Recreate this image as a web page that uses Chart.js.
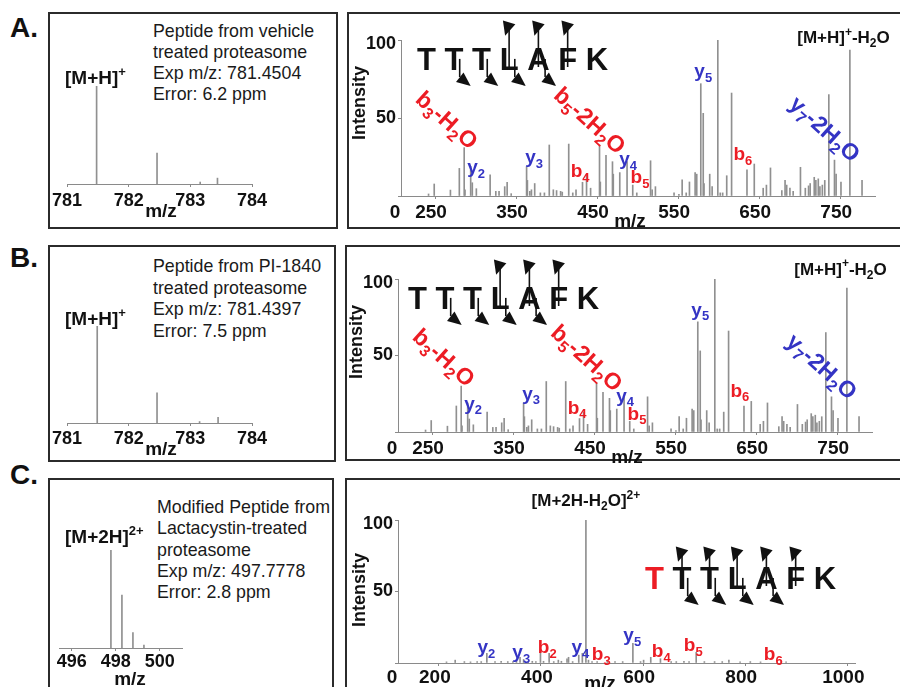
<!DOCTYPE html>
<html>
<head>
<meta charset="utf-8">
<script src="https://cdn.jsdelivr.net/npm/chart.js@4.4.1/dist/chart.umd.min.js"></script>
<style>
  body { margin: 0; background: #fff; }
  #fig { position: relative; width: 900px; height: 687px; overflow: hidden; font-family: "Liberation Sans", Arial, sans-serif; color: #111; }
  .box { position: absolute; border: 2px solid #2b2b2b; box-sizing: border-box; }
  .tag { position: absolute; font-weight: bold; font-size: 28px; line-height: 28px; }
  .info { position: absolute; font-size: 17.8px; line-height: 21px; white-space: nowrap; color: #1a1a1a; }
  canvas { position: absolute; left: 0; top: 0; }
</style>
</head>
<body>
<div id="fig">
  <div class="box" style="left:48px;top:12px;width:290px;height:217px"></div>
  <div class="box" style="left:347px;top:12px;width:600px;height:217px"></div>
  <div class="box" style="left:48px;top:245px;width:288px;height:217px"></div>
  <div class="box" style="left:345px;top:245px;width:600px;height:216px"></div>
  <div class="box" style="left:48px;top:478px;width:286px;height:300px"></div>
  <div class="box" style="left:345px;top:478px;width:600px;height:300px"></div>

  <div class="tag" style="left:10px;top:14px">A.</div>
  <div class="tag" style="left:10px;top:244px">B.</div>
  <div class="tag" style="left:10px;top:461px">C.</div>

  <div class="info" style="left:153px;top:21px">Peptide from vehicle<br>treated proteasome<br>Exp m/z: 781.4504<br>Error: 6.2 ppm</div>
  <div class="info" style="left:153px;top:256px;line-height:21.7px">Peptide from PI-1840<br>treated proteasome<br>Exp m/z: 781.4397<br>Error: 7.5 ppm</div>
  <div class="info" style="left:157px;top:497px;line-height:21.3px">Modified Peptide from<br>Lactacystin-treated<br>proteasome<br>Exp m/z: 497.7778<br>Error: 2.8 ppm</div>

  <canvas id="cA1" width="900" height="687"></canvas>
  <canvas id="cA2" width="900" height="687"></canvas>
  <canvas id="cB1" width="900" height="687"></canvas>
  <canvas id="cB2" width="900" height="687"></canvas>
  <canvas id="cC1" width="900" height="687"></canvas>
  <canvas id="cC2" width="900" height="687"></canvas>
</div>
<script>
// precursor isotope envelopes (m/z, relative intensity)
const isoMzA = [781.48, 782.46, 783.16, 783.44];
const isoIntA = [100, 31.6, 2, 6];
const isoMzB = [781.49, 782.46, 783.15, 783.45];
const isoIntB = [100, 31, 1.5, 5.8];
const isoMzC = [497.78, 498.28, 498.78, 499.28];
const isoIntC = [100, 54, 15.7, 3];
const isoTicksAB = [781, 782, 783, 784];
const isoTicksC = [496, 498, 500];

// MS/MS spectra
const msmsMzA = [242, 249, 269, 280, 286, 287, 294, 296, 301, 318, 325, 329, 336, 339, 344, 363, 364, 367, 369, 373,
  380, 385, 391, 396, 400, 405, 407, 415, 420, 424, 432, 437, 442, 453, 454, 461, 469, 470, 478, 487,
  494, 499, 516, 518, 522, 545, 551, 555, 560, 564, 571, 573, 578, 581, 582, 589, 592, 599, 602, 605,
  610, 616, 635, 644, 655, 659, 664, 678, 682, 684, 688, 692, 701, 707, 711, 713, 718, 720, 723, 725,
  728, 731, 736, 743, 745, 751, 762, 777];
const msmsIntA = [1.3, 7.7, 3.8, 17.7, 31, 4, 19, 8.5, 4.7, 13.5, 3, 3, 6, 8.8, 1.5, 18.8, 10, 3, 4, 8,
  2, 2, 32.7, 4, 3.5, 3, 2.5, 33.3, 2, 4, 8.8, 13.7, 5, 32.7, 9, 26, 22, 14, 15, 22,
  7, 2, 22.6, 4, 6, 2, 1, 10.3, 2, 9, 15, 14, 72, 53, 8, 14, 6, 100, 2, 2,
  13, 66, 16.7, 20.5, 5, 7, 18, 3.5, 10, 7, 5, 3, 18.4, 5, 6.5, 8, 12, 10, 11, 6,
  7, 10, 65, 23, 14, 9, 93.6, 10];
const msmsMzB = [242, 249, 269, 280, 286, 287, 294, 296, 301, 318, 325, 329, 336, 339, 344, 363, 364, 367, 369, 373,
  380, 385, 391, 396, 400, 405, 407, 415, 420, 424, 432, 437, 442, 453, 454, 461, 469, 470, 478, 487,
  494, 499, 516, 518, 522, 545, 551, 555, 560, 564, 571, 573, 578, 581, 582, 589, 592, 599, 602, 605,
  610, 616, 635, 644, 655, 659, 664, 678, 682, 684, 688, 692, 701, 707, 711, 713, 718, 720, 723, 725,
  728, 731, 736, 743, 745, 751, 762, 777];
const msmsIntB = [1.3, 7.5, 3.8, 17, 30, 4, 19, 8.5, 4.7, 13, 3, 3, 6, 9, 1.5, 19, 10, 3, 4, 8,
  2, 2, 33, 4, 3.5, 3, 2.5, 33, 2, 4, 8.8, 13, 5, 32, 9, 26, 22, 14, 15, 23,
  7, 2, 23, 4, 6, 2, 1, 10, 2, 9, 15, 14, 72, 53, 8, 14, 6, 100, 2, 2,
  13, 66, 17, 20, 5, 7, 19, 3.5, 10, 7, 5, 3, 18, 5, 6.5, 8, 12, 10, 11, 6,
  7, 10, 65, 23, 14, 9, 94, 10];
const msmsMzC = [215, 232, 250, 262, 275, 283, 294, 310, 322, 335, 345, 352, 359, 366, 375, 383, 390, 399, 405, 416,
  425, 434, 440, 451, 454, 462, 474, 481, 488, 493, 500, 510, 530, 545, 560, 580, 595, 601, 615, 634,
  655, 665, 680, 690, 704, 720, 740, 755, 768, 790, 810, 830, 870, 880];
const msmsIntC = [0.8, 2, 1, 0.8, 1, 1, 6.8, 1, 1.2, 1, 1, 1.2, 4, 2.5, 1, 1.2, 1, 6.8, 1.2, 6.8,
  1, 2, 1.2, 3, 4, 1, 5.5, 6.8, 100, 2, 1, 1, 1.2, 1, 1, 13.8, 1, 2, 4, 3,
  1, 1, 1.2, 1, 7.5, 1, 1, 1, 2, 0.8, 1, 0.8, 1, 0.8];
const msmsTicksAB = [250, 350, 450, 550, 650, 750];
const msmsTicksC = [200, 400, 600, 800, 1000];
const intensityTicks = [0, 50, 100];

// fragment ion labels
const fragTextAB = ['y_2', 'y_3', 'b_4', 'y_4', 'b_5', 'y_5', 'b_6'];
const fragMzAB = [300.6, 372.2, 429, 488.3, 503, 581, 630];
const fragIntAB = [18, 24.4, 15.4, 23, 11.5, 79.5, 26.3];
const fragKindAB = ['y', 'y', 'b', 'y', 'b', 'y', 'b'];
const lossTextAB = ['b_3-H_2O', 'b_5-2H_2O', 'y_7-2H_2O'];
const lossMzAB = [263.6, 440, 730];
const lossIntAB = [48, 47.8, 42.3];
const lossKindAB = ['b', 'b', 'y'];
const fragTextC = ['y_2', 'y_3', 'b_2', 'y_4', 'b_3', 'y_5', 'b_4', 'b_5', 'b_6'];
const fragMzC = [292.9, 361.4, 412.3, 477, 518, 578.8, 635.6, 698.2, 854.9];
const fragIntC = [10.5, 7, 10.5, 10.5, 5.6, 18.9, 7.7, 11.9, 5.6];
const fragKindC = ['y', 'y', 'b', 'y', 'b', 'y', 'b', 'b', 'b'];
const peptide = ['T', 'T', 'T', 'L', 'A', 'F', 'K'];

const FONT = '"Liberation Sans", Arial, sans-serif';
const RED = '#ec1c24', BLUE = '#3434c4', INK = '#111111', PEAK = '#909090', AXIS = '#8a8a8a';
const kindColor = k => (k === 'b' ? RED : BLUE);

// text with _x subscripts and ^x superscripts
function rich(ctx, str, x, y, size, color, align, weight) {
  const segs = [];
  for (let i = 0; i < str.length; i++) {
    let t = str[i], m = 0;
    if ((t === '_' || t === '^') && i + 1 < str.length) {
      m = t === '_' ? 1 : 2; i++;
      if (str[i] === '{') { const j = str.indexOf('}', i); t = str.slice(i + 1, j); i = j; } else t = str[i];
    }
    segs.push({ t, m });
  }
  const w8 = weight || 'bold';
  const font = m => w8 + ' ' + (m ? Math.round(size * 0.68) : size) + 'px ' + FONT;
  let w = 0;
  segs.forEach(s => { ctx.font = font(s.m); s.w = ctx.measureText(s.t).width; w += s.w; });
  let cx = align === 'center' ? x - w / 2 : align === 'right' ? x - w : x;
  ctx.fillStyle = color; ctx.textAlign = 'left'; ctx.textBaseline = 'middle';
  segs.forEach(s => {
    ctx.font = font(s.m);
    const dy = s.m === 1 ? size * 0.32 : s.m === 2 ? -size * 0.36 : 0;
    ctx.fillText(s.t, cx, y + dy);
    cx += s.w;
  });
}

function head(ctx, tx, ty, dx, dy, len, hw) {
  const n = Math.hypot(dx, dy); dx /= n; dy /= n;
  const bx = tx - dx * len, by = ty - dy * len;
  ctx.beginPath();
  ctx.moveTo(tx, ty);
  ctx.lineTo(bx - dy * hw, by + dx * hw);
  ctx.lineTo(bx + dy * hw, by - dx * hw);
  ctx.closePath();
  ctx.fill();
}

function stem(ctx, x, y1, y2) {
  ctx.beginPath(); ctx.moveTo(x, y1); ctx.lineTo(x, y2); ctx.stroke();
}

// peptide sequence with fragmentation marks
function drawSequence(ctx, s) {
  const size = 31;
  ctx.font = 'bold ' + size + 'px ' + FONT;
  ctx.textAlign = 'left'; ctx.textBaseline = 'alphabetic';
  const gap = ctx.measureText(' ').width;
  const cap = size * 0.716;
  let x = s.x;
  const box = [];
  peptide.forEach((L, i) => {
    const w = ctx.measureText(L).width;
    ctx.fillStyle = s.colors[i];
    ctx.fillText(L, x, s.base);
    box.push({ c: x + w / 2, w });
    x += w + gap;
  });
  ctx.fillStyle = INK; ctx.strokeStyle = INK; ctx.lineWidth = 1.6;
  s.down.forEach(i => {
    const sx = box[i].c + box[i].w * 0.3;
    stem(ctx, sx, s.base - cap * 0.5, s.base + 7);
    head(ctx, sx + 11, s.base + 16, 1, 0.8, 14, 6);
  });
  s.up.forEach(i => {
    const sx = box[i].c;
    const top = s.base - cap - s.rise;
    stem(ctx, sx, s.base - 3, top);
    head(ctx, sx - 4, top + 6, -0.3, 1, 14, 6.5);
  });
}

function drawIso(chart, o) {
  const { ctx, scales: { x } } = chart;
  ctx.save();
  o.ticks.forEach(v => rich(ctx, String(v), x.getPixelForValue(v), o.tickY, 18, INK, 'center'));
  rich(ctx, 'm/z', o.mzX, o.mzY, 19, INK, 'center');
  rich(ctx, o.label, o.labelX, o.labelY, 19, INK, 'left');
  ctx.restore();
}

function drawMsms(chart, o) {
  const { ctx, chartArea: a, scales: { x, y } } = chart;
  ctx.save();
  o.ticks.forEach(v => rich(ctx, String(v), x.getPixelForValue(v) - 4, a.bottom + o.tickDy, 19, INK, 'center'));
  rich(ctx, '0', a.left - 6, a.bottom + o.tickDy, 19, INK, 'center');
  rich(ctx, '50', a.left - 5, y.getPixelForValue(50), 18, INK, 'right');
  rich(ctx, '100', a.left - 5, y.getPixelForValue(100) + 4, 18, INK, 'right');
  rich(ctx, 'm/z', o.mzX, a.bottom + o.mzDy, 19, INK, 'center');
  ctx.save();
  ctx.translate(o.intX, a.top + o.intDy);
  ctx.rotate(-Math.PI / 2);
  rich(ctx, 'Intensity', 0, 0, 18, INK, 'center');
  ctx.restore();
  o.frag.text.forEach((t, i) => rich(ctx, t, x.getPixelForValue(o.frag.mz[i]), y.getPixelForValue(o.frag.int[i]), 19, kindColor(o.frag.kind[i]), 'center'));
  if (o.loss) o.loss.text.forEach((t, i) => {
    ctx.save();
    ctx.translate(x.getPixelForValue(o.loss.mz[i]), y.getPixelForValue(o.loss.int[i]));
    ctx.rotate(42 * Math.PI / 180);
    rich(ctx, t, 0, 0, 23, kindColor(o.loss.kind[i]), 'center');
    ctx.restore();
  });
  rich(ctx, o.prec.text, x.getPixelForValue(o.prec.mz), y.getPixelForValue(o.prec.int), 17, INK, o.prec.align);
  drawSequence(ctx, o.seq);
  ctx.restore();
}

function spectrum(id, mz, inten, o) {
  const a = o.area;
  const tick = 3;
  return new Chart(document.getElementById(id), {
    type: 'bar',
    data: { datasets: [{ data: mz.map((m, i) => ({ x: m, y: inten[i] })), backgroundColor: PEAK, borderWidth: 0, barThickness: 1 }] },
    options: {
      responsive: false,
      animation: false,
      events: [],
      layout: { padding: { left: a.l - (o.showY ? tick : 0), right: 900 - a.r, top: a.t, bottom: 687 - a.b - tick } },
      plugins: { legend: { display: false }, tooltip: { enabled: false } },
      scales: {
        x: {
          type: 'linear', min: o.xMin, max: o.xMax, offset: false,
          afterBuildTicks: s => { s.ticks = o.xTicks.map(v => ({ value: v })); },
          ticks: { display: false },
          grid: { display: true, drawOnChartArea: false, drawTicks: true, tickLength: tick, color: AXIS, offset: false },
          border: { display: true, color: AXIS, width: 1 }
        },
        y: {
          display: o.showY, min: 0, max: 100,
          afterBuildTicks: s => { s.ticks = intensityTicks.map(v => ({ value: v })); },
          ticks: { display: false },
          grid: { display: true, drawOnChartArea: false, drawTicks: true, tickLength: tick, color: AXIS },
          border: { display: true, color: AXIS, width: 1 }
        }
      }
    },
    plugins: [{ id: 'overlay', afterDraw: c => o.draw(c) }]
  });
}

const black = peptide.map(() => INK);

// left panels: precursor envelopes
spectrum('cA1', isoMzA, isoIntA, {
  area: { l: 67, r: 252, t: 86, b: 184 }, xMin: 781, xMax: 784, xTicks: isoTicksAB, showY: false,
  draw: c => drawIso(c, { ticks: isoTicksAB, tickY: 201, mzX: 161, mzY: 212, label: '[M+H]^+', labelX: 65, labelY: 79 })
});
spectrum('cB1', isoMzB, isoIntB, {
  area: { l: 67, r: 252, t: 326, b: 423 }, xMin: 781, xMax: 784, xTicks: isoTicksAB, showY: false,
  draw: c => drawIso(c, { ticks: isoTicksAB, tickY: 439, mzX: 161, mzY: 450, label: '[M+H]^+', labelX: 65, labelY: 320 })
});
spectrum('cC1', isoMzC, isoIntC, {
  area: { l: 59, r: 182, t: 550, b: 648 }, xMin: 495.42, xMax: 501.01, xTicks: isoTicksC, showY: false,
  draw: c => drawIso(c, { ticks: isoTicksC, tickY: 662, mzX: 130, mzY: 680, label: '[M+2H]^{2+}', labelX: 65, labelY: 538 })
});

// right panels: MS/MS spectra
spectrum('cA2', msmsMzA, msmsIntA, {
  area: { l: 401, r: 875, t: 40, b: 196 }, xMin: 208, xMax: 793, xTicks: msmsTicksAB, showY: true,
  draw: c => drawMsms(c, {
    ticks: msmsTicksAB, tickDy: 17, mzX: 630, mzDy: 26, intX: 360, intDy: 63,
    frag: { text: fragTextAB, mz: fragMzAB, int: fragIntAB, kind: fragKindAB },
    loss: { text: lossTextAB, mz: lossMzAB, int: lossIntAB, kind: lossKindAB },
    prec: { text: '[M+H]^+-H_2O', mz: 697, int: 101, align: 'left' },
    seq: { x: 417, base: 70, colors: black, down: [1, 2, 3, 4], up: [3, 4, 5], rise: 18 }
  })
});
spectrum('cB2', msmsMzB, msmsIntB, {
  area: { l: 398, r: 872, t: 279, b: 432 }, xMin: 208, xMax: 793, xTicks: msmsTicksAB, showY: true,
  draw: c => drawMsms(c, {
    ticks: msmsTicksAB, tickDy: 17, mzX: 627, mzDy: 26, intX: 357, intDy: 63,
    frag: { text: fragTextAB, mz: fragMzAB, int: fragIntAB, kind: fragKindAB },
    loss: { text: lossTextAB, mz: lossMzAB, int: lossIntAB, kind: lossKindAB },
    prec: { text: '[M+H]^+-H_2O', mz: 697, int: 106, align: 'left' },
    seq: { x: 408, base: 309, colors: black, down: [1, 2, 3, 4], up: [3, 4, 5], rise: 18 }
  })
});
spectrum('cC2', msmsMzC, msmsIntC, {
  area: { l: 398, r: 855, t: 520, b: 663 }, xMin: 120, xMax: 1015, xTicks: msmsTicksC, showY: true,
  draw: c => drawMsms(c, {
    ticks: msmsTicksC, tickDy: 15, mzX: 600, mzDy: 21, intX: 360, intDy: 70,
    frag: { text: fragTextC, mz: fragMzC, int: fragIntC, kind: fragKindC },
    loss: null,
    prec: { text: '[M+2H-H_2O]^{2+}', mz: 488, int: 113, align: 'center' },
    seq: { x: 645, base: 589, colors: [RED, INK, INK, INK, INK, INK, INK], down: [1, 2, 3, 4], up: [1, 2, 3, 4, 5], rise: 11 }
  })
});
</script>
</body>
</html>
